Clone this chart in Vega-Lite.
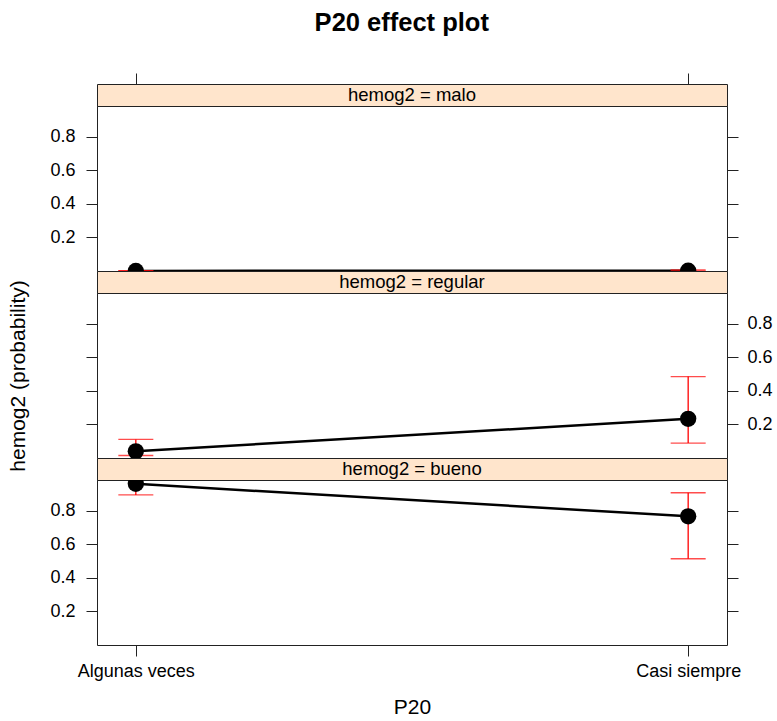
{
  "$schema": "https://vega.github.io/schema/vega-lite/v6.json",
  "padding": {"left": 7, "top": 10, "right": 5, "bottom": 5},
  "background": "white",
  "title": {"text": "P20 effect plot", "font": "Liberation Sans", "fontSize": 25.5, "fontWeight": "bold", "color": "black", "anchor": "middle", "offset": 36, "dx": 12},
  "datasets": {
    "effects": [
      {"level": "malo", "P20": "Algunas veces", "fit": 0.0005, "lower": 0.0001, "upper": 0.0015},
      {"level": "malo", "P20": "Casi siempre", "fit": 0.002, "lower": 0.0003, "upper": 0.007},
      {"level": "regular", "P20": "Algunas veces", "fit": 0.040, "lower": 0.015, "upper": 0.111},
      {"level": "regular", "P20": "Casi siempre", "fit": 0.234, "lower": 0.089, "upper": 0.486},
      {"level": "bueno", "P20": "Algunas veces", "fit": 0.962, "lower": 0.896, "upper": 0.990},
      {"level": "bueno", "P20": "Casi siempre", "fit": 0.768, "lower": 0.515, "upper": 0.909}
    ],
    "strips": [
      {"level": "malo", "label": "hemog2 = malo"},
      {"level": "regular", "label": "hemog2 = regular"},
      {"level": "bueno", "label": "hemog2 = bueno"}
    ]
  },
  "spacing": 0,
  "bounds": "flush",
  "vconcat": [
    {
      "width": 630, "height": 22,
      "data": {"name": "strips"},
      "transform": [{"filter": "datum.level === 'malo'"}],
      "view": {"fill": "#ffe5cc", "stroke": "#222"},
      "mark": {"type": "text", "fontSize": 18.5, "font": "Liberation Sans", "color": "black", "baseline": "middle", "align": "center"},
      "encoding": {"text": {"field": "label"}}
    },
    {
      "width": 630, "height": 165,
      "data": {"name": "effects"},
      "transform": [{"filter": "datum.level === 'malo'"}],
      "layer": [
        {"layer": [
          {"mark": {"type": "line", "color": "black", "strokeWidth": 2.5, "clip": true},
           "encoding": {
             "x": {"field": "P20", "type": "nominal", "sort": ["Algunas veces", "Casi siempre"], "scale": {"type": "point", "padding": 0.0703}, "title": null, "axis": {"orient": "top", "offset": 22, "labels": false, "title": null}},
             "y": {"field": "fit", "type": "quantitative", "title": null, "scale": {"domain": [0, 0.985], "nice": false, "zero": false}, "axis": {"orient": "left", "values": [0.2, 0.4, 0.6, 0.8], "format": ".1f", "labelPadding": 11}}}},
          {"mark": {"type": "rule", "color": "#ff0000", "strokeWidth": 1.3, "clip": true},
           "encoding": {
             "x": {"field": "P20", "type": "nominal", "sort": ["Algunas veces", "Casi siempre"], "scale": {"type": "point", "padding": 0.0703}, "title": null, "axis": {"orient": "top", "offset": 22, "labels": false, "title": null}},
             "y": {"field": "lower", "type": "quantitative", "title": null, "scale": {"domain": [0, 0.985], "nice": false, "zero": false}, "axis": {"orient": "left", "values": [0.2, 0.4, 0.6, 0.8], "format": ".1f", "labelPadding": 11}},
             "y2": {"field": "upper"}}},
          {"mark": {"type": "tick", "color": "#ff0000", "size": 35, "thickness": 1.3, "orient": "horizontal", "clip": true},
           "encoding": {
             "x": {"field": "P20", "type": "nominal", "sort": ["Algunas veces", "Casi siempre"], "scale": {"type": "point", "padding": 0.0703}, "title": null, "axis": {"orient": "top", "offset": 22, "labels": false, "title": null}},
             "y": {"field": "lower", "type": "quantitative", "title": null, "scale": {"domain": [0, 0.985], "nice": false, "zero": false}, "axis": {"orient": "left", "values": [0.2, 0.4, 0.6, 0.8], "format": ".1f", "labelPadding": 11}}}},
          {"mark": {"type": "tick", "color": "#ff0000", "size": 35, "thickness": 1.3, "orient": "horizontal", "clip": true},
           "encoding": {
             "x": {"field": "P20", "type": "nominal", "sort": ["Algunas veces", "Casi siempre"], "scale": {"type": "point", "padding": 0.0703}, "title": null, "axis": {"orient": "top", "offset": 22, "labels": false, "title": null}},
             "y": {"field": "upper", "type": "quantitative", "title": null, "scale": {"domain": [0, 0.985], "nice": false, "zero": false}, "axis": {"orient": "left", "values": [0.2, 0.4, 0.6, 0.8], "format": ".1f", "labelPadding": 11}}}},
          {"mark": {"type": "point", "shape": "circle", "filled": true, "color": "black", "opacity": 1, "size": 266, "clip": true},
           "encoding": {
             "x": {"field": "P20", "type": "nominal", "sort": ["Algunas veces", "Casi siempre"], "scale": {"type": "point", "padding": 0.0703}, "title": null, "axis": {"orient": "top", "offset": 22, "labels": false, "title": null}},
             "y": {"field": "fit", "type": "quantitative", "title": null, "scale": {"domain": [0, 0.985], "nice": false, "zero": false}, "axis": {"orient": "left", "values": [0.2, 0.4, 0.6, 0.8], "format": ".1f", "labelPadding": 11}}}}
        ]},
        {"mark": {"type": "point", "opacity": 0},
         "encoding": {
           "x": {"field": "P20", "type": "nominal", "sort": ["Algunas veces", "Casi siempre"], "scale": {"type": "point", "padding": 0.0703}, "title": null, "axis": {"orient": "top", "offset": 22, "labels": false, "title": null}},
           "y": {"field": "fit", "type": "quantitative", "title": null, "scale": {"domain": [0, 0.985], "nice": false, "zero": false}, "axis": {"orient": "right", "values": [0.2, 0.4, 0.6, 0.8], "labels": false}}}}
      ],
      "resolve": {"scale": {"y": "independent"}}
    },
    {
      "width": 630, "height": 22,
      "data": {"name": "strips"},
      "transform": [{"filter": "datum.level === 'regular'"}],
      "view": {"fill": "#ffe5cc", "stroke": "#222"},
      "mark": {"type": "text", "fontSize": 18.5, "font": "Liberation Sans", "color": "black", "baseline": "middle", "align": "center"},
      "encoding": {"text": {"field": "label"}}
    },
    {
      "width": 630, "height": 165,
      "data": {"name": "effects"},
      "transform": [{"filter": "datum.level === 'regular'"}],
      "layer": [
        {"layer": [
          {"mark": {"type": "line", "color": "black", "strokeWidth": 2.5, "clip": true},
           "encoding": {
             "x": {"field": "P20", "type": "nominal", "sort": ["Algunas veces", "Casi siempre"], "scale": {"type": "point", "padding": 0.0703}, "title": null, "axis": null},
             "y": {"field": "fit", "type": "quantitative", "title": "hemog2 (probability)", "scale": {"domain": [0, 0.985], "nice": false, "zero": false}, "axis": {"orient": "left", "values": [0.2, 0.4, 0.6, 0.8], "labels": false, "titlePadding": 57, "titleFontSize": 21}}}},
          {"mark": {"type": "rule", "color": "#ff0000", "strokeWidth": 1.3, "clip": true},
           "encoding": {
             "x": {"field": "P20", "type": "nominal", "sort": ["Algunas veces", "Casi siempre"], "scale": {"type": "point", "padding": 0.0703}, "title": null, "axis": null},
             "y": {"field": "lower", "type": "quantitative", "title": "hemog2 (probability)", "scale": {"domain": [0, 0.985], "nice": false, "zero": false}, "axis": {"orient": "left", "values": [0.2, 0.4, 0.6, 0.8], "labels": false, "titlePadding": 57, "titleFontSize": 21}},
             "y2": {"field": "upper"}}},
          {"mark": {"type": "tick", "color": "#ff0000", "size": 35, "thickness": 1.3, "orient": "horizontal", "clip": true},
           "encoding": {
             "x": {"field": "P20", "type": "nominal", "sort": ["Algunas veces", "Casi siempre"], "scale": {"type": "point", "padding": 0.0703}, "title": null, "axis": null},
             "y": {"field": "lower", "type": "quantitative", "title": "hemog2 (probability)", "scale": {"domain": [0, 0.985], "nice": false, "zero": false}, "axis": {"orient": "left", "values": [0.2, 0.4, 0.6, 0.8], "labels": false, "titlePadding": 57, "titleFontSize": 21}}}},
          {"mark": {"type": "tick", "color": "#ff0000", "size": 35, "thickness": 1.3, "orient": "horizontal", "clip": true},
           "encoding": {
             "x": {"field": "P20", "type": "nominal", "sort": ["Algunas veces", "Casi siempre"], "scale": {"type": "point", "padding": 0.0703}, "title": null, "axis": null},
             "y": {"field": "upper", "type": "quantitative", "title": "hemog2 (probability)", "scale": {"domain": [0, 0.985], "nice": false, "zero": false}, "axis": {"orient": "left", "values": [0.2, 0.4, 0.6, 0.8], "labels": false, "titlePadding": 57, "titleFontSize": 21}}}},
          {"mark": {"type": "point", "shape": "circle", "filled": true, "color": "black", "opacity": 1, "size": 266, "clip": true},
           "encoding": {
             "x": {"field": "P20", "type": "nominal", "sort": ["Algunas veces", "Casi siempre"], "scale": {"type": "point", "padding": 0.0703}, "title": null, "axis": null},
             "y": {"field": "fit", "type": "quantitative", "title": "hemog2 (probability)", "scale": {"domain": [0, 0.985], "nice": false, "zero": false}, "axis": {"orient": "left", "values": [0.2, 0.4, 0.6, 0.8], "labels": false, "titlePadding": 57, "titleFontSize": 21}}}}
        ]},
        {"mark": {"type": "point", "opacity": 0},
         "encoding": {
           "x": {"field": "P20", "type": "nominal", "sort": ["Algunas veces", "Casi siempre"], "scale": {"type": "point", "padding": 0.0703}, "title": null, "axis": null},
           "y": {"field": "fit", "type": "quantitative", "title": null, "scale": {"domain": [0, 0.985], "nice": false, "zero": false}, "axis": {"orient": "right", "values": [0.2, 0.4, 0.6, 0.8], "format": ".1f", "labelPadding": 9}}}}
      ],
      "resolve": {"scale": {"y": "independent"}}
    },
    {
      "width": 630, "height": 22,
      "data": {"name": "strips"},
      "transform": [{"filter": "datum.level === 'bueno'"}],
      "view": {"fill": "#ffe5cc", "stroke": "#222"},
      "mark": {"type": "text", "fontSize": 18.5, "font": "Liberation Sans", "color": "black", "baseline": "middle", "align": "center"},
      "encoding": {"text": {"field": "label"}}
    },
    {
      "width": 630, "height": 165,
      "data": {"name": "effects"},
      "transform": [{"filter": "datum.level === 'bueno'"}],
      "layer": [
        {"layer": [
          {"mark": {"type": "line", "color": "black", "strokeWidth": 2.5, "clip": true},
           "encoding": {
             "x": {"field": "P20", "type": "nominal", "sort": ["Algunas veces", "Casi siempre"], "scale": {"type": "point", "padding": 0.0703}, "title": "P20", "axis": {"orient": "bottom", "labelAngle": 0, "labelPadding": 6, "titlePadding": 16, "titleFontSize": 21}},
             "y": {"field": "fit", "type": "quantitative", "title": null, "scale": {"domain": [0, 0.985], "nice": false, "zero": false}, "axis": {"orient": "left", "values": [0.2, 0.4, 0.6, 0.8], "format": ".1f", "labelPadding": 11}}}},
          {"mark": {"type": "rule", "color": "#ff0000", "strokeWidth": 1.3, "clip": true},
           "encoding": {
             "x": {"field": "P20", "type": "nominal", "sort": ["Algunas veces", "Casi siempre"], "scale": {"type": "point", "padding": 0.0703}, "title": "P20", "axis": {"orient": "bottom", "labelAngle": 0, "labelPadding": 6, "titlePadding": 16, "titleFontSize": 21}},
             "y": {"field": "lower", "type": "quantitative", "title": null, "scale": {"domain": [0, 0.985], "nice": false, "zero": false}, "axis": {"orient": "left", "values": [0.2, 0.4, 0.6, 0.8], "format": ".1f", "labelPadding": 11}},
             "y2": {"field": "upper"}}},
          {"mark": {"type": "tick", "color": "#ff0000", "size": 35, "thickness": 1.3, "orient": "horizontal", "clip": true},
           "encoding": {
             "x": {"field": "P20", "type": "nominal", "sort": ["Algunas veces", "Casi siempre"], "scale": {"type": "point", "padding": 0.0703}, "title": "P20", "axis": {"orient": "bottom", "labelAngle": 0, "labelPadding": 6, "titlePadding": 16, "titleFontSize": 21}},
             "y": {"field": "lower", "type": "quantitative", "title": null, "scale": {"domain": [0, 0.985], "nice": false, "zero": false}, "axis": {"orient": "left", "values": [0.2, 0.4, 0.6, 0.8], "format": ".1f", "labelPadding": 11}}}},
          {"mark": {"type": "tick", "color": "#ff0000", "size": 35, "thickness": 1.3, "orient": "horizontal", "clip": true},
           "encoding": {
             "x": {"field": "P20", "type": "nominal", "sort": ["Algunas veces", "Casi siempre"], "scale": {"type": "point", "padding": 0.0703}, "title": "P20", "axis": {"orient": "bottom", "labelAngle": 0, "labelPadding": 6, "titlePadding": 16, "titleFontSize": 21}},
             "y": {"field": "upper", "type": "quantitative", "title": null, "scale": {"domain": [0, 0.985], "nice": false, "zero": false}, "axis": {"orient": "left", "values": [0.2, 0.4, 0.6, 0.8], "format": ".1f", "labelPadding": 11}}}},
          {"mark": {"type": "point", "shape": "circle", "filled": true, "color": "black", "opacity": 1, "size": 266, "clip": true},
           "encoding": {
             "x": {"field": "P20", "type": "nominal", "sort": ["Algunas veces", "Casi siempre"], "scale": {"type": "point", "padding": 0.0703}, "title": "P20", "axis": {"orient": "bottom", "labelAngle": 0, "labelPadding": 6, "titlePadding": 16, "titleFontSize": 21}},
             "y": {"field": "fit", "type": "quantitative", "title": null, "scale": {"domain": [0, 0.985], "nice": false, "zero": false}, "axis": {"orient": "left", "values": [0.2, 0.4, 0.6, 0.8], "format": ".1f", "labelPadding": 11}}}}
        ]},
        {"mark": {"type": "point", "opacity": 0},
         "encoding": {
           "x": {"field": "P20", "type": "nominal", "sort": ["Algunas veces", "Casi siempre"], "scale": {"type": "point", "padding": 0.0703}, "title": "P20", "axis": {"orient": "bottom", "labelAngle": 0, "labelPadding": 6, "titlePadding": 16, "titleFontSize": 21}},
           "y": {"field": "fit", "type": "quantitative", "title": null, "scale": {"domain": [0, 0.985], "nice": false, "zero": false}, "axis": {"orient": "right", "values": [0.2, 0.4, 0.6, 0.8], "labels": false}}}}
      ],
      "resolve": {"scale": {"y": "independent"}}
    }
  ],
  "config": {
    "font": "Liberation Sans",
    "view": {"stroke": "#222", "strokeWidth": 1},
    "axis": {
      "domain": false, "grid": false,
      "tickColor": "#222", "tickSize": 11, "tickWidth": 1,
      "labelFont": "Liberation Sans", "labelFontSize": 18, "labelColor": "black",
      "titleFont": "Liberation Sans", "titleFontSize": 21, "titleFontWeight": "normal", "titleColor": "black"
    }
  }
}
